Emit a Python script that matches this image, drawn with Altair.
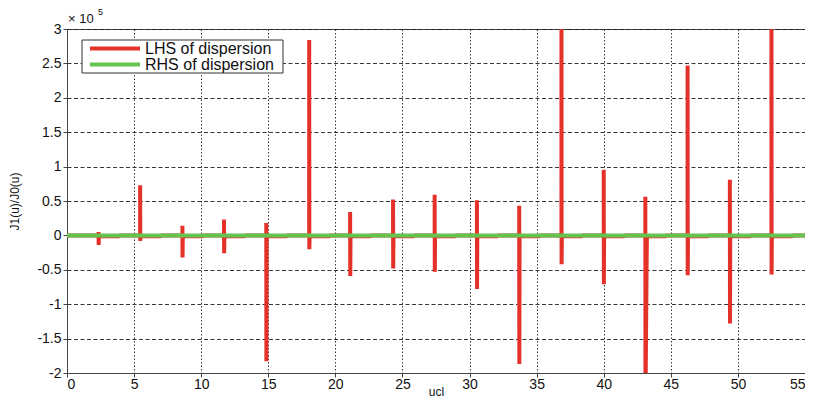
import altair as alt
import pandas as pd

# ---- data ----
x_ticks = [0, 5, 10, 15, 20, 25, 30, 35, 40, 45, 50, 55]
y_ticks = [-2, -1.5, -1, -0.5, 0, 0.5, 1, 1.5, 2, 2.5, 3]

# positions of the vertical spikes (ucl) and their extents (x 1e5)
pole_u = [2.35, 5.45, 8.6, 11.7, 14.85, 18.05, 21.1, 24.3, 27.4, 30.55,
          33.7, 36.85, 40.0, 43.1, 46.25, 49.4, 52.5]
spike_top = [0.05, 0.73, 0.14, 0.23, 0.18, 2.84, 0.34, 0.52, 0.59, 0.51,
             0.43, 3.5, 0.95, 0.56, 2.47, 0.81, 3.5]
spike_bottom = [-0.14, -0.08, -0.32, -0.26, -1.83, -0.20, -0.59, -0.48, -0.53, -0.78,
                -1.87, -0.42, -0.71, -2.5, -0.58, -1.28, -0.57]
# second sample after the pole at ucl ~43.1
after_pole = {13: -0.34}
tail_len = 1.5      # visible near-zero part after each spike
tail_level = -0.012

rhs_u = [0, 55]
rhs_val = [0, 0]

series_names = ["LHS of dispersion", "RHS of dispersion"]

RED = "#e4322b"
GREEN = "#63c450"
FONT = "Liberation Sans"

# ---- build tables ----
rows = [(0.0, 0.0)]
for k, (u, t, b) in enumerate(zip(pole_u, spike_top, spike_bottom)):
    rows.append((u, 0.0))
    rows.append((u, t))
    rows.append((u + 0.01, b))
    if k in after_pole:
        rows.append((u + 0.1, after_pole[k]))
        rows.append((u + 0.12, tail_level))
    else:
        rows.append((u + 0.03, tail_level))
    rows.append((u + tail_len, tail_level))
    rows.append((u + tail_len + 0.1, 0.0))
rows.append((55.0, 0.0))
lhs = pd.DataFrame(rows, columns=["u", "v"])
lhs["i"] = range(len(lhs))
lhs["series"] = series_names[0]

rhs = pd.DataFrame({"u": rhs_u, "v": rhs_val, "series": series_names[1]})
rhs["i"] = range(len(rhs))

color = alt.Color(
    "series:N",
    scale=alt.Scale(domain=series_names, range=[RED, GREEN]),
    legend=None,
)

xenc = alt.X(
    "u:Q",
    scale=alt.Scale(domain=[0, 55], nice=False),
    axis=alt.Axis(values=x_ticks, title="ucl", gridDash=[1.5, 2], titleBaseline="top",
                  titleY=13, titleFontSize=12, labelPadding=0,
                  labelExpr="'' + datum.value"),
)
yenc = alt.Y(
    "v:Q",
    scale=alt.Scale(domain=[-2, 3], nice=False, zero=False),
    axis=alt.Axis(values=y_ticks, title="J1(u)/J0(u)", gridDash=[4, 2.5],
                  titleX=-53, titleY=172, titleAngle=-90, titleBaseline="middle",
                  titleAlign="center", titleFontSize=12, labelExpr="'' + datum.value"),
)

red = alt.Chart(lhs).mark_line(strokeWidth=4, clip=True, strokeCap="butt").encode(
    x=xenc, y=yenc, color=color, order="i:Q"
)
green = alt.Chart(rhs).mark_line(strokeWidth=4, clip=True).encode(
    x=xenc, y=yenc, color=color, order="i:Q"
)

# exponent label
exp_base = alt.Chart(pd.DataFrame({"t": ["× 10"]})).mark_text(
    align="left", baseline="alphabetic", fontSize=13, font=FONT, color="#111"
).encode(x=alt.value(1), y=alt.value(-6), text="t:N")
exp_sup = alt.Chart(pd.DataFrame({"t": ["5"]})).mark_text(
    align="left", baseline="alphabetic", fontSize=9, font=FONT, color="#111"
).encode(x=alt.value(31), y=alt.value(-14), text="t:N")

# legend box (MATLAB style)
leg_box = alt.Chart(pd.DataFrame({"a": [0]})).mark_rect(
    fill="white", stroke="#333", strokeWidth=1
).encode(x=alt.value(15), x2=alt.value(216), y=alt.value(11), y2=alt.value(44))

leg_items = []
for k, (name, col) in enumerate(zip(series_names, [RED, GREEN])):
    yy = 19.5 + 16 * k
    d = pd.DataFrame({"series": [name]})
    leg_items.append(
        alt.Chart(d).mark_rule(strokeWidth=4, color=col).encode(
            x=alt.value(23), x2=alt.value(73), y=alt.value(yy)
        )
    )
    leg_items.append(
        alt.Chart(d).mark_text(align="left", baseline="middle", fontSize=16,
                               font=FONT, color="#111").encode(
            x=alt.value(78), y=alt.value(yy), text="series:N"
        )
    )

chart = alt.layer(red, green, exp_base, exp_sup, leg_box, *leg_items).properties(
    width=738, height=344,
    autosize=alt.AutoSizeParams(type="none"),
    padding={"left": 59, "top": 21, "right": 0, "bottom": 26},
).configure_view(
    stroke="#444", strokeWidth=1
).configure_axis(
    domainColor="#444", domainWidth=1, tickColor="#444", tickSize=4,
    labelFont=FONT, labelFontSize=14, labelColor="#111", labelPadding=2,
    titleFont=FONT, titleFontSize=13, titleFontWeight="normal", titleColor="#111",
    gridColor="#222", gridWidth=1, gridOpacity=0.9,
)

chart.save("out.html", embed_options={"renderer": "svg", "actions": False})
